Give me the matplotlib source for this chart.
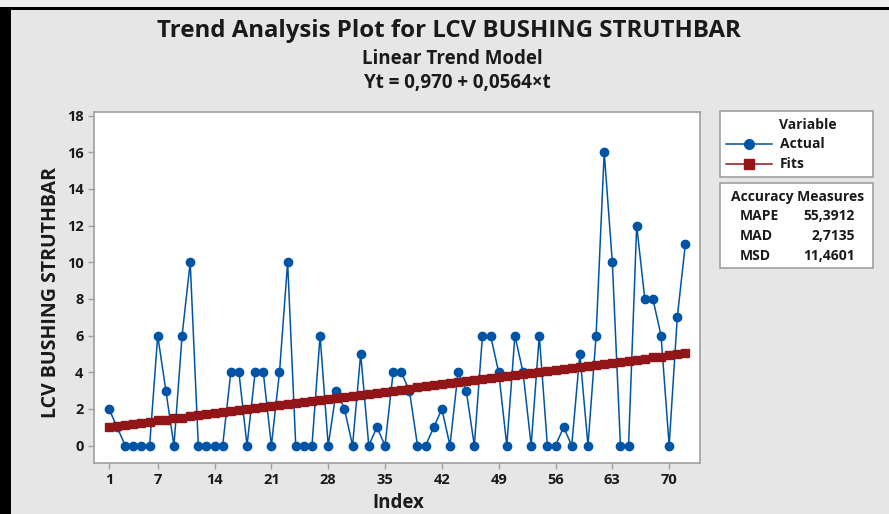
import matplotlib
matplotlib.use('Agg')
import matplotlib.pyplot as plt
from matplotlib.patches import Rectangle
from matplotlib.lines import Line2D

# data
index = list(range(1, 73))
actual = [2, 1, 0, 0, 0, 0, 6, 3, 0, 6,
          10, 0, 0, 0, 0, 4, 4, 0, 4, 4,
          0, 4, 10, 0, 0, 0, 6, 0, 3, 2,
          0, 5, 0, 1, 0, 4, 4, 3, 0, 0,
          1, 2, 0, 4, 3, 0, 6, 6, 4, 0,
          6, 4, 0, 6, 0, 0, 1, 0, 5, 0,
          6, 16, 10, 0, 0, 12, 8, 8, 6, 0,
          7, 11]
fits = [1.03, 1.08, 1.14, 1.20, 1.25, 1.31, 1.37, 1.42, 1.48, 1.53,
        1.59, 1.65, 1.70, 1.76, 1.82, 1.87, 1.93, 1.99, 2.04, 2.10,
        2.15, 2.21, 2.27, 2.32, 2.38, 2.44, 2.49, 2.55, 2.61, 2.66,
        2.72, 2.78, 2.83, 2.89, 2.94, 3.00, 3.06, 3.11, 3.17, 3.23,
        3.28, 3.34, 3.40, 3.45, 3.51, 3.56, 3.62, 3.68, 3.73, 3.79,
        3.85, 3.90, 3.96, 4.02, 4.07, 4.13, 4.19, 4.24, 4.30, 4.35,
        4.41, 4.47, 4.52, 4.58, 4.64, 4.69, 4.75, 4.81, 4.86, 4.92,
        4.97, 5.03]
xticks = [1, 7, 14, 21, 28, 35, 42, 49, 56, 63, 70]
yticks = [0, 2, 4, 6, 8, 10, 12, 14, 16, 18]
measures = ['MAPE', 'MAD', 'MSD']
measure_vals = ['55,3912', '2,7135', '11,4601']

W, H = 889, 514
BLUE = '#0054a6'
RED = '#921518'
BG = '#e6e6e6'
TXT = '#1a1a1a'
EDGE = '#a0a0a0'

plt.rcParams['font.family'] = ['Open Sans', 'DejaVu Sans']


def fx(x):
    return x / W


def fy(y):
    return 1 - y / H


fig = plt.figure(figsize=(W / 100, H / 100), dpi=100, facecolor=BG)

# screenshot frame: black band on the left and top
fig.patches.append(Rectangle((0, fy(H)), fx(11), fy(7) - fy(H), transform=fig.transFigure,
                             facecolor='black', edgecolor='none', zorder=0))
fig.patches.append(Rectangle((0, fy(10)), 1, fy(7) - fy(10), transform=fig.transFigure,
                             facecolor='black', edgecolor='none', zorder=0))
fig.patches.append(Rectangle((0, fy(7)), 1, 1 - fy(7), transform=fig.transFigure,
                             facecolor='#eeeeee', edgecolor='none', zorder=0))

ax = fig.add_axes([fx(94), fy(463), fx(700) - fx(94), fy(112) - fy(463)])
ax.set_facecolor('white')
ax.plot(index, actual, '-o', color=BLUE, lw=1.1, markersize=6, zorder=3)
ax.plot(index, fits, '-s', color=RED, lw=1.1, markersize=5.6, zorder=4)

ax.set_xlim(-0.85, 73.8)
ax.set_ylim(-0.95, 18.2)
ax.set_xticks(xticks)
ax.set_yticks(yticks)
for s in ax.spines.values():
    s.set_color(EDGE)
    s.set_linewidth(1.2)
ax.tick_params(colors=EDGE, length=4, width=1, labelcolor=TXT, labelsize=10.5)
for lab in ax.get_xticklabels() + ax.get_yticklabels():
    lab.set_fontweight('bold')

fig.text(fx(51), fy(292), 'LCV BUSHING STRUTHBAR', rotation=90, ha='center', va='center',
         fontsize=14, fontweight='bold', color=TXT)
fig.text(fx(398), fy(503), 'Index', ha='center', va='center',
         fontsize=13.5, fontweight='bold', color=TXT)

fig.text(fx(449), fy(31), 'Trend Analysis Plot for LCV BUSHING STRUTHBAR', ha='center', va='center',
         fontsize=17.3, fontweight='bold', color=TXT)
fig.text(fx(452), fy(59), 'Linear Trend Model', ha='center', va='center',
         fontsize=13.5, fontweight='bold', color=TXT)
fig.text(fx(457), fy(83), 'Yt = 0,970 + 0,0564×t', ha='center', va='center',
         fontsize=13.5, fontweight='bold', color=TXT)

# legend box
fig.patches.append(Rectangle((fx(720), fy(177)), fx(873) - fx(720), fy(111) - fy(177),
                             transform=fig.transFigure, facecolor='white', edgecolor=EDGE, lw=1.2))
fig.text(fx(808), fy(125), 'Variable', ha='center', va='center', fontsize=10,
         fontweight='bold', color=TXT)
for yy, col, mk, name in [(144, BLUE, 'o', 'Actual'), (164, RED, 's', 'Fits')]:
    fig.lines.append(Line2D([fx(726), fx(772)], [fy(yy), fy(yy)], transform=fig.transFigure,
                            color=col, lw=1.1, marker=None))
    fig.lines.append(Line2D([fx(749)], [fy(yy)], transform=fig.transFigure,
                            color=col, marker=mk, markersize=7, lw=0))
    fig.text(fx(780), fy(yy), name, ha='left', va='center', fontsize=10,
             fontweight='bold', color=TXT)

# accuracy measures box
fig.patches.append(Rectangle((fx(720), fy(268)), fx(873) - fx(720), fy(183) - fy(268),
                             transform=fig.transFigure, facecolor='white', edgecolor=EDGE, lw=1.2))
fig.text(fx(798), fy(197), 'Accuracy Measures', ha='center', va='center', fontsize=10,
         fontweight='bold', color=TXT)
for i, (m, v) in enumerate(zip(measures, measure_vals)):
    yy = 216 + i * 20
    fig.text(fx(740), fy(yy), m, ha='left', va='center', fontsize=10,
             fontweight='bold', color=TXT)
    fig.text(fx(855), fy(yy), v, ha='right', va='center', fontsize=10,
             fontweight='bold', color=TXT)

fig.savefig('out.png', dpi=100, facecolor=BG)
